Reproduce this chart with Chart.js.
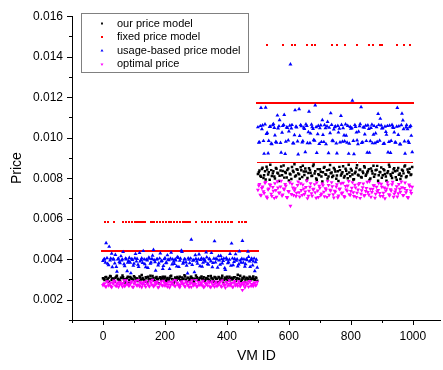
<!DOCTYPE html>
<html>
<head>
<meta charset="utf-8">
<script src="https://cdn.jsdelivr.net/npm/chart.js@4.4.1/dist/chart.umd.min.js"></script>
<style>
  html, body { margin: 0; padding: 0; background: #fff; }
  #wrap { width: 443px; height: 370px; }
</style>
</head>
<body>
<div id="wrap"><canvas id="priceChart" width="443" height="370"></canvas></div>
<script>
// two samplings of the VM IDs: 0,5,10,...,995 and 3,8,13,...,998
const idsA = [];
const idsB = [];
for (let id = 0; id < 1000; id += 5) { idsA.push(id); idsB.push(id + 3); }

// each array: VMs 0-499 first, then VMs 500-999
const ourPriceA = [
  0.00306,0.00298,0.00312,0.00301,0.00289,0.00315,0.00304,0.00296,0.00309,0.00318,
  0.00300,0.00293,0.00307,0.00311,0.00285,0.00303,0.00314,0.00297,0.00308,0.00302,
  0.00316,0.00294,0.00305,0.00299,0.00310,0.00322,0.00301,0.00290,0.00306,0.00313,
  0.00298,0.00304,0.00317,0.00295,0.00309,0.00302,0.00281,0.00311,0.00307,0.00299,
  0.00314,0.00303,0.00296,0.00308,0.00319,0.00300,0.00292,0.00306,0.00312,0.00305,
  0.00297,0.00310,0.00303,0.00315,0.00288,0.00307,0.00301,0.00313,0.00298,0.00304,
  0.00320,0.00306,0.00295,0.00309,0.00302,0.00311,0.00297,0.00305,0.00316,0.00293,
  0.00308,0.00300,0.00312,0.00304,0.00286,0.00310,0.00303,0.00318,0.00299,0.00307,
  0.00314,0.00301,0.00296,0.00309,0.00305,0.00311,0.00298,0.00323,0.00304,0.00291,
  0.00307,0.00313,0.00300,0.00306,0.00296,0.00310,0.00303,0.00315,0.00299,0.00308,
  0.00821,0.00838,0.00807,0.00852,0.00815,0.00794,0.00843,0.00829,0.00866,0.00811,
  0.00834,0.00799,0.00847,0.00823,0.00812,0.00858,0.00836,0.00803,0.00826,0.00841,
  0.00789,0.00818,0.00855,0.00831,0.00808,0.00845,0.00824,0.00797,0.00839,0.00862,
  0.00816,0.00833,0.00801,0.00849,0.00827,0.00812,0.00868,0.00835,0.00792,0.00820,
  0.00844,0.00809,0.00830,0.00856,0.00817,0.00798,0.00842,0.00825,0.00806,0.00851,
  0.00833,0.00814,0.00786,0.00840,0.00822,0.00859,0.00811,0.00837,0.00800,0.00828,
  0.00846,0.00818,0.00795,0.00832,0.00864,0.00813,0.00843,0.00804,0.00826,0.00853,
  0.00819,0.00836,0.00791,0.00848,0.00823,0.00807,0.00839,0.00861,0.00815,0.00830,
  0.00802,0.00845,0.00821,0.00788,0.00834,0.00857,0.00812,0.00827,0.00849,0.00805,
  0.00838,0.00817,0.00796,0.00842,0.00824,0.00863,0.00810,0.00831,0.00847,0.00819
];
const ourPriceB = [
  0.00302,0.00311,0.00295,0.00308,0.00317,0.00299,0.00305,0.00290,0.00313,0.00304,
  0.00297,0.00309,0.00320,0.00301,0.00294,0.00307,0.00283,0.00312,0.00303,0.00298,
  0.00310,0.00305,0.00292,0.00315,0.00300,0.00308,0.00296,0.00311,0.00287,0.00304,
  0.00318,0.00299,0.00306,0.00293,0.00312,0.00301,0.00309,0.00297,0.00314,0.00305,
  0.00291,0.00307,0.00300,0.00316,0.00303,0.00282,0.00310,0.00298,0.00306,0.00313,
  0.00295,0.00304,0.00321,0.00300,0.00309,0.00293,0.00312,0.00306,0.00289,0.00303,
  0.00311,0.00298,0.00307,0.00315,0.00301,0.00294,0.00308,0.00302,0.00299,0.00317,
  0.00305,0.00290,0.00310,0.00303,0.00312,0.00297,0.00306,0.00284,0.00309,0.00301,
  0.00296,0.00314,0.00304,0.00300,0.00311,0.00292,0.00307,0.00302,0.00319,0.00298,
  0.00305,0.00288,0.00309,0.00303,0.00313,0.00297,0.00306,0.00301,0.00310,0.00294,
  0.00829,0.00812,0.00846,0.00801,0.00835,0.00857,0.00818,0.00793,0.00840,0.00824,
  0.00809,0.00851,0.00827,0.00786,0.00838,0.00815,0.00863,0.00831,0.00804,0.00848,
  0.00822,0.00796,0.00837,0.00869,0.00813,0.00842,0.00819,0.00854,0.00806,0.00833,
  0.00848,0.00790,0.00826,0.00841,0.00811,0.00860,0.00823,0.00799,0.00845,0.00816,
  0.00832,0.00784,0.00852,0.00820,0.00839,0.00808,0.00865,0.00828,0.00812,0.00843,
  0.00797,0.00835,0.00856,0.00814,0.00829,0.00803,0.00847,0.00821,0.00866,0.00810,
  0.00838,0.00794,0.00825,0.00851,0.00817,0.00840,0.00806,0.00833,0.00859,0.00812,
  0.00828,0.00845,0.00799,0.00836,0.00862,0.00819,0.00842,0.00787,0.00831,0.00853,
  0.00815,0.00839,0.00808,0.00826,0.00867,0.00820,0.00801,0.00844,0.00834,0.00793,
  0.00850,0.00823,0.00811,0.00837,0.00858,0.00805,0.00843,0.00828,0.00816,0.00855
];

const fixedPriceA = [
  0.0044,0.00585,0.0044,0.00585,0.0044,0.0044,0.0044,0.00585,0.0044,0.0044,
  0.0044,0.0044,0.0044,0.00585,0.0044,0.00585,0.0044,0.00585,0.0044,0.00585,
  0.0044,0.00585,0.0044,0.00585,0.0044,0.00585,0.0044,0.00585,0.0044,0.0044,
  0.0044,0.00585,0.0044,0.00585,0.0044,0.00585,0.0044,0.00585,0.0044,0.00585,
  0.0044,0.00585,0.0044,0.0044,0.00585,0.0044,0.00585,0.0044,0.00585,0.0044,
  0.00585,0.0044,0.00585,0.0044,0.00585,0.0044,0.00585,0.0044,0.0044,0.0044,
  0.00585,0.0044,0.0044,0.0044,0.00585,0.0044,0.00585,0.0044,0.00585,0.0044,
  0.00585,0.0044,0.0044,0.00585,0.0044,0.00585,0.0044,0.00585,0.0044,0.00585,
  0.0044,0.00585,0.0044,0.00585,0.0044,0.0044,0.0044,0.0044,0.00585,0.0044,
  0.00585,0.0044,0.00585,0.0044,0.0044,0.0044,0.0044,0.0044,0.0044,0.0044,
  0.0117,0.00877,0.0117,0.0117,0.00877,0.0117,0.0146,0.0117,0.00877,0.0117,
  0.0117,0.00877,0.0117,0.0117,0.00877,0.0117,0.0146,0.0117,0.00877,0.0117,
  0.0117,0.00877,0.0146,0.0117,0.0146,0.00877,0.0117,0.0117,0.00877,0.0117,
  0.0117,0.00877,0.0146,0.0117,0.00877,0.0146,0.0117,0.0146,0.00877,0.0117,
  0.0117,0.00877,0.0117,0.0117,0.00877,0.0117,0.0117,0.00877,0.0146,0.0117,
  0.00877,0.0146,0.0117,0.0117,0.00877,0.0117,0.0146,0.00877,0.0117,0.0117,
  0.00877,0.0117,0.0117,0.00877,0.0146,0.0117,0.00877,0.0117,0.0117,0.00877,
  0.0117,0.0117,0.0146,0.00877,0.0146,0.0117,0.00877,0.0117,0.0117,0.0146,
  0.0146,0.00877,0.0117,0.0117,0.00877,0.0117,0.0117,0.00877,0.0117,0.0117,
  0.0146,0.00877,0.0117,0.0117,0.0146,0.00877,0.0117,0.0117,0.0146,0.00877
];
const fixedPriceB = [
  0.0044,0.0044,0.0044,0.0044,0.0044,0.0044,0.0044,0.0044,0.0044,0.0044,
  0.0044,0.0044,0.0044,0.0044,0.00585,0.0044,0.00585,0.0044,0.00585,0.0044,
  0.00585,0.0044,0.00585,0.0044,0.00585,0.0044,0.00585,0.0044,0.0044,0.0044,
  0.0044,0.0044,0.00585,0.0044,0.00585,0.0044,0.00585,0.0044,0.00585,0.0044,
  0.00585,0.0044,0.00585,0.0044,0.0044,0.00585,0.0044,0.00585,0.0044,0.00585,
  0.0044,0.00585,0.0044,0.00585,0.0044,0.00585,0.0044,0.0044,0.0044,0.0044,
  0.0044,0.0044,0.0044,0.0044,0.0044,0.00585,0.0044,0.00585,0.0044,0.00585,
  0.0044,0.0044,0.0044,0.0044,0.00585,0.0044,0.00585,0.0044,0.00585,0.0044,
  0.00585,0.0044,0.00585,0.0044,0.0044,0.0044,0.0044,0.00585,0.0044,0.0044,
  0.0044,0.00585,0.0044,0.0044,0.0044,0.0044,0.0044,0.0044,0.0044,0.0044,
  0.00877,0.0117,0.00877,0.00877,0.0117,0.00877,0.0117,0.00877,0.0117,0.00877,
  0.00877,0.0117,0.00877,0.00877,0.0117,0.00877,0.0117,0.00877,0.0117,0.00877,
  0.00877,0.0117,0.0117,0.00877,0.0117,0.0117,0.00877,0.00877,0.0117,0.00877,
  0.00877,0.0117,0.0117,0.00877,0.0117,0.0117,0.00877,0.0117,0.0117,0.00877,
  0.00877,0.0117,0.00877,0.00877,0.0117,0.00877,0.00877,0.0117,0.0117,0.00877,
  0.0117,0.0117,0.00877,0.00877,0.0117,0.00877,0.0117,0.0117,0.00877,0.00877,
  0.0117,0.00877,0.00877,0.0117,0.0117,0.00877,0.0117,0.00877,0.00877,0.0117,
  0.00877,0.00877,0.0117,0.0117,0.0117,0.00877,0.0117,0.00877,0.00877,0.0117,
  0.0117,0.0117,0.00877,0.00877,0.0117,0.00877,0.00877,0.0117,0.00877,0.00877,
  0.0117,0.0117,0.00877,0.00877,0.0117,0.0117,0.00877,0.00877,0.0117,0.0117
];

const usagePriceA = [
  0.00392,0.00401,0.00480,0.00378,0.00462,0.00404,0.00361,0.00398,0.00422,0.00339,
  0.00403,0.00381,0.00395,0.00436,0.00366,0.00400,0.00384,0.00407,0.00331,0.00397,
  0.00379,0.00426,0.00402,0.00363,0.00389,0.00405,0.00441,0.00376,0.00399,0.00358,
  0.00403,0.00385,0.00418,0.00396,0.00344,0.00401,0.00380,0.00429,0.00392,0.00367,
  0.00406,0.00383,0.00398,0.00352,0.00433,0.00400,0.00377,0.00394,0.00411,0.00362,
  0.00403,0.00437,0.00386,0.00399,0.00369,0.00405,0.00381,0.00497,0.00393,0.00336,
  0.00402,0.00378,0.00424,0.00397,0.00364,0.00401,0.00388,0.00409,0.00374,0.00399,
  0.00431,0.00382,0.00489,0.00403,0.00359,0.00395,0.00417,0.00380,0.00404,0.00347,
  0.00398,0.00386,0.00427,0.00478,0.00371,0.00402,0.00393,0.00365,0.00439,0.00384,
  0.00491,0.00400,0.00376,0.00396,0.00412,0.00363,0.00403,0.00389,0.00342,0.00398,
  0.01052,0.00978,0.01148,0.01061,0.00921,0.01149,0.01024,0.00985,0.01055,0.00969,
  0.01068,0.01012,0.00976,0.01046,0.01087,0.00927,0.01058,0.01113,0.00981,0.01049,
  0.01032,0.01362,0.01063,0.00972,0.01136,0.01051,0.00918,0.01009,0.01057,0.00983,
  0.01044,0.01066,0.00974,0.01129,0.01021,0.01053,0.00988,0.01160,0.00925,0.01059,
  0.01047,0.00979,0.01014,0.01062,0.00968,0.01078,0.01050,0.01121,0.00986,0.01041,
  0.01056,0.00923,0.01026,0.00977,0.01064,0.01048,0.00982,0.01011,0.01059,0.00971,
  0.01045,0.01183,0.00919,0.01054,0.00987,0.01030,0.01067,0.00975,0.01052,0.01017,
  0.00984,0.01061,0.00926,0.01049,0.00973,0.01058,0.01022,0.00980,0.01063,0.01094,
  0.01046,0.00970,0.01055,0.01015,0.00928,0.01060,0.00985,0.01051,0.01027,0.00976,
  0.01148,0.01057,0.00967,0.01119,0.01043,0.00922,0.01062,0.00982,0.01053,0.01010
];
const usagePriceB = [
  0.00398,0.00384,0.00406,0.00371,0.00395,0.00428,0.00402,0.00380,0.00363,0.00400,
  0.00387,0.00415,0.00399,0.00376,0.00404,0.00342,0.00392,0.00383,0.00401,0.00368,
  0.00405,0.00389,0.00373,0.00432,0.00397,0.00382,0.00400,0.00361,0.00394,0.00408,
  0.00379,0.00402,0.00446,0.00386,0.00399,0.00370,0.00404,0.00390,0.00353,0.00401,
  0.00381,0.00420,0.00396,0.00403,0.00375,0.00388,0.00400,0.00365,0.00407,0.00393,
  0.00443,0.00379,0.00401,0.00385,0.00330,0.00398,0.00404,0.00372,0.00396,0.00421,
  0.00389,0.00400,0.00366,0.00405,0.00383,0.00397,0.00434,0.00377,0.00402,0.00390,
  0.00361,0.00403,0.00385,0.00399,0.00416,0.00374,0.00401,0.00392,0.00356,0.00406,
  0.00381,0.00398,0.00368,0.00404,0.00387,0.00425,0.00400,0.00375,0.00395,0.00402,
  0.00383,0.00364,0.00401,0.00438,0.00389,0.00397,0.00370,0.00404,0.00386,0.00359,
  0.00976,0.01058,0.01043,0.00984,0.01066,0.01019,0.00923,0.01054,0.00971,0.01062,
  0.01049,0.00980,0.01110,0.01057,0.00975,0.01025,0.01064,0.00920,0.01051,0.00987,
  0.01060,0.01046,0.00973,0.01013,0.01055,0.00982,0.01141,0.01063,0.00977,0.01050,
  0.00929,0.01058,0.01028,0.00974,0.01065,0.01044,0.00986,0.01053,0.01018,0.00970,
  0.01061,0.01087,0.00979,0.01047,0.01056,0.00924,0.01023,0.01064,0.00983,0.01052,
  0.00972,0.01059,0.01045,0.01108,0.00981,0.01012,0.01066,0.00976,0.00921,0.01054,
  0.01048,0.00985,0.01063,0.01026,0.00969,0.01057,0.01151,0.00978,0.01050,0.01060,
  0.00927,0.01044,0.00983,0.01065,0.01016,0.00974,0.01053,0.01118,0.00986,0.01061,
  0.01047,0.00971,0.01029,0.01058,0.00980,0.00925,0.01064,0.01049,0.00977,0.01055,
  0.01014,0.00968,0.01062,0.01086,0.00982,0.01051,0.01043,0.00975,0.01059,0.00929
];

const optimalPriceA = [
  0.00272,0.00281,0.00265,0.00290,0.00276,0.00268,0.00285,0.00294,0.00270,0.00279,
  0.00263,0.00288,0.00274,0.00282,0.00267,0.00296,0.00277,0.00271,0.00286,0.00264,
  0.00280,0.00292,0.00269,0.00275,0.00287,0.00262,0.00283,0.00273,0.00291,0.00278,
  0.00266,0.00284,0.00298,0.00271,0.00276,0.00289,0.00264,0.00280,0.00273,0.00293,
  0.00269,0.00282,0.00275,0.00261,0.00287,0.00278,0.00270,0.00295,0.00283,0.00267,
  0.00274,0.00290,0.00279,0.00265,0.00284,0.00272,0.00288,0.00263,0.00277,0.00281,
  0.00297,0.00268,0.00275,0.00286,0.00271,0.00262,0.00283,0.00279,0.00291,0.00266,
  0.00285,0.00273,0.00264,0.00289,0.00276,0.00282,0.00269,0.00294,0.00274,0.00260,
  0.00287,0.00278,0.00270,0.00283,0.00265,0.00292,0.00276,0.00268,0.00281,0.00273,
  0.00248,0.00286,0.00271,0.00279,0.00264,0.00290,0.00277,0.00267,0.00284,0.00275,
  0.00742,0.00771,0.00715,0.00758,0.00726,0.00781,0.00703,0.00749,0.00766,0.00712,
  0.00737,0.00775,0.00708,0.00753,0.00729,0.00787,0.00719,0.00745,0.00762,0.00705,
  0.00734,0.00663,0.00772,0.00716,0.00750,0.00727,0.00783,0.00709,0.00741,0.00768,
  0.00721,0.00756,0.00701,0.00738,0.00774,0.00713,0.00747,0.00730,0.00779,0.00706,
  0.00752,0.00724,0.00765,0.00710,0.00743,0.00786,0.00718,0.00739,0.00760,0.00704,
  0.00733,0.00770,0.00714,0.00748,0.00725,0.00777,0.00707,0.00744,0.00763,0.00720,
  0.00736,0.00780,0.00711,0.00754,0.00728,0.00769,0.00702,0.00740,0.00773,0.00717,
  0.00751,0.00731,0.00784,0.00708,0.00746,0.00764,0.00722,0.00735,0.00776,0.00712,
  0.00757,0.00727,0.00700,0.00748,0.00767,0.00715,0.00739,0.00782,0.00723,0.00745,
  0.00709,0.00771,0.00732,0.00755,0.00716,0.00778,0.00741,0.00704,0.00761,0.00726
];
const optimalPriceB = [
  0.00277,0.00266,0.00289,0.00271,0.00283,0.00262,0.00279,0.00292,0.00268,0.00285,
  0.00274,0.00280,0.00265,0.00295,0.00272,0.00286,0.00269,0.00278,0.00290,0.00263,
  0.00284,0.00273,0.00297,0.00267,0.00281,0.00276,0.00288,0.00264,0.00279,0.00270,
  0.00293,0.00275,0.00266,0.00287,0.00282,0.00261,0.00278,0.00291,0.00269,0.00284,
  0.00276,0.00264,0.00289,0.00272,0.00280,0.00294,0.00267,0.00283,0.00274,0.00262,
  0.00286,0.00279,0.00268,0.00290,0.00275,0.00263,0.00282,0.00296,0.00271,0.00277,
  0.00265,0.00288,0.00273,0.00281,0.00293,0.00266,0.00278,0.00270,0.00285,0.00262,
  0.00291,0.00276,0.00283,0.00267,0.00274,0.00289,0.00264,0.00280,0.00272,0.00287,
  0.00269,0.00295,0.00277,0.00263,0.00284,0.00271,0.00278,0.00290,0.00266,0.00282,
  0.00274,0.00261,0.00286,0.00279,0.00292,0.00268,0.00275,0.00283,0.00270,0.00288,
  0.00763,0.00718,0.00751,0.00735,0.00777,0.00709,0.00744,0.00769,0.00723,0.00756,
  0.00702,0.00741,0.00784,0.00727,0.00759,0.00714,0.00748,0.00771,0.00706,0.00736,
  0.00779,0.00721,0.00753,0.00740,0.00711,0.00766,0.00730,0.00775,0.00717,0.00749,
  0.00734,0.00788,0.00713,0.00757,0.00725,0.00745,0.00770,0.00703,0.00739,0.00762,
  0.00716,0.00773,0.00733,0.00750,0.00707,0.00766,0.00742,0.00780,0.00720,0.00737,
  0.00758,0.00705,0.00746,0.00774,0.00729,0.00711,0.00761,0.00738,0.00785,0.00718,
  0.00752,0.00730,0.00767,0.00706,0.00743,0.00776,0.00722,0.00755,0.00714,0.00736,
  0.00782,0.00719,0.00747,0.00731,0.00764,0.00703,0.00757,0.00741,0.00726,0.00772,
  0.00711,0.00753,0.00738,0.00780,0.00720,0.00745,0.00769,0.00708,0.00734,0.00760,
  0.00725,0.00747,0.00783,0.00716,0.00751,0.00730,0.00706,0.00768,0.00739,0.00757
];

const seriesNames = ['our price model', 'fixed price model', 'usage-based price model', 'optimal price'];
const xTickValues = [-100, 0, 100, 200, 300, 400, 500, 600, 700, 800, 900, 1000];
const xTickLabels = [0, 200, 400, 600, 800, 1000];
const yTickValues = [0.001, 0.002, 0.003, 0.004, 0.005, 0.006, 0.007, 0.008, 0.009, 0.010, 0.011, 0.012, 0.013, 0.014, 0.015, 0.016];
const yTickLabels = ['0.002', '0.004', '0.006', '0.008', '0.010', '0.012', '0.014', '0.016'];

const FONT = 'Arial, "Liberation Sans", Helvetica, sans-serif';

function toPoints(a, b) {
  return idsA.map((id, i) => ({ x: id, y: a[i] }))
    .concat(idsB.map((id, i) => ({ x: id, y: b[i] })));
}

function makeDash(w, h) {
  const c = document.createElement('canvas');
  c.width = w;
  c.height = h;
  const g = c.getContext('2d');
  g.fillStyle = '#ff0000';
  g.fillRect(0, 0, w, h);
  return c;
}
// fixed-price dots are short wide dashes, so the dense rows read as solid lines
const redDash = makeDash(4, 2);
const redThin = makeDash(4, 1);
const redDot = makeDash(2, 2);

function fixedStyle(ctx) {
  const p = ctx.raw;
  if (!p) return redDash;
  if (p.y > 0.0085 && p.y < 0.009) return redThin;
  if (p.y > 0.014 || (p.y > 0.0055 && p.y < 0.0062)) return redDot;
  return redDash;
}

const markers = [
  { color: '#000000', style: 'rect', radius: 1.75, rotation: 0, order: 4 },
  { color: '#ff0000', style: fixedStyle, radius: 2, rotation: 0, order: 3 },
  { color: '#0000ff', style: 'triangle', radius: 2.3, rotation: 0, order: 2 },
  { color: '#ff00ff', style: 'triangle', radius: 2.3, rotation: 180, order: 1 }
];
const seriesValues = [
  [ourPriceA, ourPriceB],
  [fixedPriceA, fixedPriceB],
  [usagePriceA, usagePriceB],
  [optimalPriceA, optimalPriceB]
];

const datasets = seriesNames.map((name, k) => ({
  label: name,
  data: toPoints(seriesValues[k][0], seriesValues[k][1]),
  backgroundColor: markers[k].color,
  borderColor: markers[k].color,
  pointStyle: markers[k].style,
  pointRadius: markers[k].radius,
  pointRotation: markers[k].rotation,
  pointBorderWidth: 0,
  pointHoverRadius: markers[k].radius,
  order: markers[k].order
}));

function fmtY(v) { return v.toFixed(3); }

// major/minor tick marks drawn outward, like the original plot
const tickMarks = {
  id: 'tickMarks',
  afterDraw(chart) {
    const ctx = chart.ctx;
    const xs = chart.scales.x, ys = chart.scales.y;
    const area = chart.chartArea;
    ctx.save();
    ctx.strokeStyle = '#000';
    ctx.lineWidth = 1;
    ctx.beginPath();
    xTickValues.forEach(v => {
      const px = Math.round(xs.getPixelForValue(v)) + 0.5;
      const len = xTickLabels.includes(v) ? 5 : 3;
      ctx.moveTo(px, area.bottom);
      ctx.lineTo(px, area.bottom + len);
    });
    yTickValues.forEach(v => {
      const py = Math.round(ys.getPixelForValue(v)) + 0.5;
      const len = yTickLabels.includes(fmtY(v)) ? 5 : 3;
      ctx.moveTo(area.left, py);
      ctx.lineTo(area.left - len, py);
    });
    ctx.stroke();
    ctx.restore();
  }
};

// boxed legend sitting inside the plot, top-left
const boxLegend = {
  id: 'boxLegend',
  afterDraw(chart) {
    const ctx = chart.ctx;
    const left = 81, top = 13, w = 167, h = 59;
    ctx.save();
    ctx.fillStyle = '#fff';
    ctx.fillRect(left, top, w, h);
    ctx.strokeStyle = '#808080';
    ctx.lineWidth = 1;
    ctx.strokeRect(left + 0.5, top + 0.5, w, h);
    ctx.font = '11px ' + FONT;
    ctx.textBaseline = 'middle';
    seriesNames.forEach((name, k) => {
      const y = top + 10.5 + k * 13.6;
      const m = markers[k];
      ctx.fillStyle = m.color;
      if (k === 1) {
        ctx.fillRect(101, Math.round(y) - 1, 2, 2);
      } else if (Chart.helpers && Chart.helpers.drawPoint) {
        Chart.helpers.drawPoint(ctx, { pointStyle: m.style, radius: m.radius * 0.75, rotation: m.rotation, borderWidth: 0 }, 102, y);
      } else {
        ctx.fillRect(101, y - 1, 2, 2);
      }
      ctx.fillStyle = '#000';
      ctx.fillText(name, 117, y);
    });
    ctx.restore();
  }
};

new Chart(document.getElementById('priceChart'), {
  type: 'scatter',
  data: { datasets: datasets },
  options: {
    responsive: false,
    animation: false,
    devicePixelRatio: 1,
    layout: { padding: { top: 16, right: 0, left: 0, bottom: 0 } },
    plugins: {
      legend: { display: false },
      tooltip: { enabled: false }
    },
    scales: {
      x: {
        type: 'linear',
        min: -100,
        max: 1090,
        afterBuildTicks: scale => { scale.ticks = xTickValues.map(v => ({ value: v })); },
        afterFit: scale => { scale.height = 50; },
        grid: { display: false, drawTicks: false },
        border: { display: true, color: '#000', width: 1 },
        ticks: {
          padding: 9,
          color: '#000',
          font: { family: FONT, size: 12 },
          maxRotation: 0,
          autoSkip: false,
          callback: v => (xTickLabels.includes(v) ? String(v) : '')
        },
        title: {
          display: true,
          text: 'VM ID',
          color: '#000',
          font: { family: FONT, size: 14 },
          padding: { top: 4, bottom: 5 }
        }
      },
      y: {
        type: 'linear',
        min: 0.001,
        max: 0.016,
        afterBuildTicks: scale => { scale.ticks = yTickValues.map(v => ({ value: v })); },
        afterFit: scale => { scale.width = 72; },
        grid: { display: false, drawTicks: false },
        border: { display: true, color: '#000', width: 1 },
        ticks: {
          padding: 9,
          color: '#000',
          font: { family: FONT, size: 12 },
          autoSkip: false,
          callback: v => (yTickLabels.includes(fmtY(v)) ? fmtY(v) : '')
        },
        title: {
          display: true,
          text: 'Price',
          color: '#000',
          font: { family: FONT, size: 14 },
          padding: { top: 9, bottom: 0 }
        }
      }
    }
  },
  plugins: [tickMarks, boxLegend]
});
</script>
</body>
</html>
